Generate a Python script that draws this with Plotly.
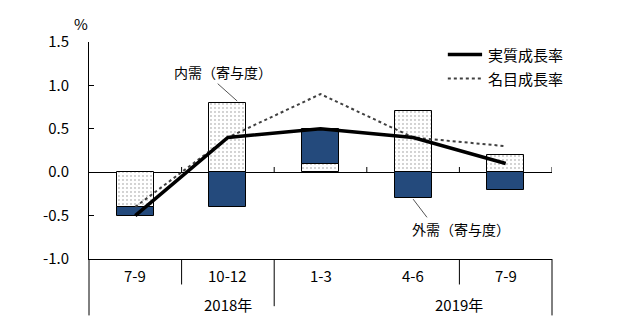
import plotly.graph_objects as go

# Quarterly GDP growth (q/q, %) and contributions
quarters = ["7-9", "10-12", "1-3", "4-6", "7-9"]
years = ["2018年", "2019年"]
domestic = [-0.4, 0.8, 0.1, 0.7, 0.2]      # 内需(寄与度)
external = [-0.1, -0.4, 0.4, -0.3, -0.2]   # 外需(寄与度)
real_growth = [-0.5, 0.4, 0.5, 0.4, 0.1]   # 実質成長率
nominal_growth = [-0.4, 0.4, 0.9, 0.4, 0.3]  # 名目成長率
y_ticks = [-1.0, -0.5, 0.0, 0.5, 1.0, 1.5]
y_tick_text = ["-1.0", "-0.5", "0.0", "0.5", "1.0", "1.5"]

FONT = "Noto Sans CJK JP"
NAVY = "#244a7c"
x = list(range(len(quarters)))

fig = go.Figure()
fig.add_trace(go.Bar(
    x=x, y=domestic, width=0.4, name="内需（寄与度）",
    marker=dict(color="white", line=dict(color="black", width=1),
                pattern=dict(shape=".", fgcolor="black", bgcolor="white",
                             size=4, solidity=0.08)),
    showlegend=False,
))
fig.add_trace(go.Bar(
    x=x, y=external, width=0.4, name="外需（寄与度）",
    marker=dict(color=NAVY, line=dict(color="black", width=1)),
    showlegend=False,
))
fig.add_trace(go.Scatter(
    x=x, y=nominal_growth, mode="lines", name="名目成長率",
    line=dict(color="#404040", width=2, dash="dot"), showlegend=False,
))
fig.add_trace(go.Scatter(
    x=x, y=real_growth, mode="lines", name="実質成長率",
    line=dict(color="black", width=3.5), showlegend=False,
))

shapes = []
# upward ticks on the zero line at quarter boundaries
for b in [0.5, 1.5, 2.5, 3.5, 4.5]:
    shapes.append(dict(type="line", xref="x", yref="y", x0=b, x1=b, y0=0, y1=0.06,
                       line=dict(color="black", width=1)))
# category table below the plot
for px, depth in [(0.0, -0.26), (0.2, -0.1175), (0.4, -0.2175), (0.8, -0.1175), (1.0, -0.26)]:
    shapes.append(dict(type="line", xref="paper", yref="paper", x0=px, x1=px, y0=0, y1=depth,
                       line=dict(color="black", width=1)))
# leader lines for the labels
shapes.append(dict(type="line", xref="x", yref="y", x0=0.89, y0=1.02, x1=1.1, y1=0.82,
                   line=dict(color="#555555", width=1)))
shapes.append(dict(type="line", xref="x", yref="y", x0=3.0, y0=-0.31, x1=3.15, y1=-0.52,
                   line=dict(color="#555555", width=1)))
# legend samples
shapes.append(dict(type="line", xref="paper", yref="paper", x0=0.775, x1=0.849, y0=0.942, y1=0.942,
                   line=dict(color="black", width=3.5)))
shapes.append(dict(type="line", xref="paper", yref="paper", x0=0.775, x1=0.849, y0=0.832, y1=0.832,
                   line=dict(color="#404040", width=2, dash="dot")))

annotations = []
for i, q in enumerate(quarters):
    annotations.append(dict(x=i, y=-0.076, xref="x", yref="paper", text=q, showarrow=False,
                            xanchor="center", yanchor="middle"))
annotations.append(dict(x=1, y=-0.21, xref="x", yref="paper", text=years[0], showarrow=False,
                        xanchor="center", yanchor="middle"))
annotations.append(dict(x=3.5, y=-0.21, xref="x", yref="paper", text=years[1], showarrow=False,
                        xanchor="center", yanchor="middle"))
annotations.append(dict(x=0.95, y=1.15, xref="x", yref="y", text="内需（寄与度）", showarrow=False,
                        xanchor="center", yanchor="middle", font=dict(size=14)))
annotations.append(dict(x=3.52, y=-0.65, xref="x", yref="y", text="外需（寄与度）", showarrow=False,
                        xanchor="center", yanchor="middle", font=dict(size=14)))
annotations.append(dict(x=-0.018, y=1.085, xref="paper", yref="paper", text="%", showarrow=False,
                        xanchor="center", yanchor="middle"))
annotations.append(dict(x=0.857, y=0.942, xref="paper", yref="paper", text="実質成長率",
                        showarrow=False, xanchor="left", yanchor="middle"))
annotations.append(dict(x=0.857, y=0.832, xref="paper", yref="paper", text="名目成長率",
                        showarrow=False, xanchor="left", yanchor="middle"))

fig.update_layout(
    width=634, height=326,
    margin=dict(l=89, r=82, t=42, b=67),
    paper_bgcolor="white", plot_bgcolor="white",
    barmode="relative", bargap=0,
    font=dict(family=FONT, size=15, color="black"),
    shapes=shapes, annotations=annotations,
    xaxis=dict(range=[-0.5, 4.5], showticklabels=False, showgrid=False, zeroline=False,
               showline=True, linecolor="black", linewidth=1, ticks=""),
    yaxis=dict(range=[-1.0, 1.5], tickvals=y_ticks, ticktext=y_tick_text, showgrid=False,
               zeroline=True, zerolinecolor="black", zerolinewidth=1,
               showline=True, linecolor="black", linewidth=1,
               ticks="inside", ticklen=5, tickcolor="black", ticklabelstandoff=16),
)

fig.write_html("out.html")
